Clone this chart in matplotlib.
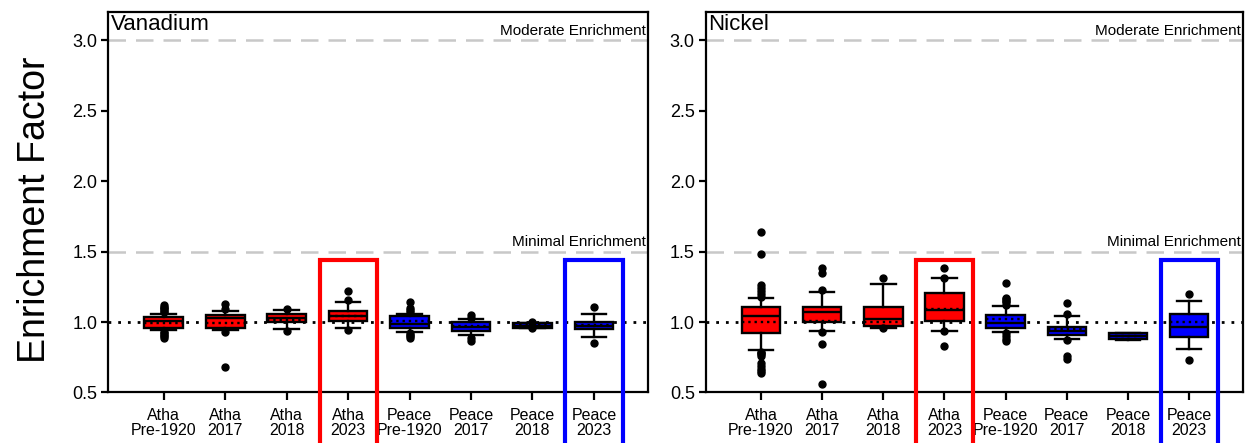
import matplotlib
matplotlib.use("Agg")
import matplotlib.pyplot as plt
import matplotlib.transforms as mtransforms
from matplotlib.patches import Rectangle

plt.rcParams['font.family'] = ['Liberation Sans', 'DejaVu Sans']

# Categorias (eje x)
etiquetas = ["Atha\nPre-1920", "Atha\n2017", "Atha\n2018", "Atha\n2023",
             "Peace\nPre-1920", "Peace\n2017", "Peace\n2018", "Peace\n2023"]
rio = ["Atha", "Atha", "Atha", "Atha", "Peace", "Peace", "Peace", "Peace"]
resaltados = ["Atha\n2023", "Peace\n2023"]

# Vanadio: estadisticos
v_whislo = [0.94, 0.94, 0.95, 0.955, 0.93, 0.91, 0.955, 0.895]
v_q1 = [0.96, 0.96, 1.00, 1.005, 0.96, 0.935, 0.96, 0.95]
v_med = [1.01, 1.03, 1.03, 1.045, 0.985, 0.965, 0.975, 0.97]
v_q3 = [1.035, 1.05, 1.06, 1.075, 1.045, 0.998, 0.99, 1.0]
v_whishi = [1.06, 1.075, 1.085, 1.14, 1.06, 1.02, 0.995, 1.06]
v_mean = [0.99, 0.995, 1.015, 1.04, 1.005, 0.975, 0.98, 0.98]
v_fliers = [
    [1.07, 1.08, 1.09, 1.10, 1.11, 1.12, 0.93, 0.92, 0.91, 0.90, 0.89],
    [1.09, 1.13, 0.93, 0.68],
    [1.09, 0.935],
    [1.22, 1.155, 0.94],
    [1.07, 1.085, 1.10, 1.14, 0.92, 0.91, 0.90, 0.89],
    [1.03, 1.05, 0.885, 0.865],
    [1.0, 0.955],
    [1.105, 0.85],
]

# Niquel
n_whislo = [0.80, 0.935, 0.955, 0.937, 0.932, 0.88, 0.875, 0.809]
n_q1 = [0.925, 1.0, 0.975, 1.007, 0.96, 0.909, 0.88, 0.897]
n_med = [1.045, 1.07, 1.02, 1.084, 0.99, 0.937, 0.90, 0.967]
n_q3 = [1.105, 1.105, 1.11, 1.208, 1.049, 0.967, 0.92, 1.054]
n_whishi = [1.17, 1.21, 1.27, 1.313, 1.112, 1.044, 0.925, 1.147]
n_mean = [1.0, 1.01, 1.0, 1.09, 1.019, 0.95, 0.90, 1.0]
n_fliers = [
    [1.64, 1.48, 1.18, 1.20, 1.22, 1.24, 1.26, 0.79, 0.78, 0.77, 0.76,
     0.71, 0.69, 0.67, 0.65, 0.64],
    [1.385, 1.35, 1.23, 0.93, 0.845, 0.56],
    [1.31, 0.955],
    [1.383, 1.315, 0.935, 0.827],
    [1.28, 1.17, 1.16, 1.15, 1.14, 1.12, 0.92, 0.90, 0.88, 0.865],
    [1.135, 1.054, 0.875, 0.757, 0.74],
    [],
    [1.2, 0.734],
]

COLOR_RIO = {"Atha": "#ff0000", "Peace": "#0000ff"}


def armar_stats(whislo, q1, med, q3, whishi, mean, fliers):
    stats = []
    for i in range(len(etiquetas)):
        stats.append(dict(whislo=whislo[i], q1=q1[i], med=med[i], q3=q3[i],
                          whishi=whishi[i], mean=mean[i], fliers=fliers[i]))
    return stats


def graficar_panel(ax, stats, titulo):
    pos = list(range(1, len(etiquetas) + 1))
    bp = ax.bxp(stats, positions=pos, widths=0.63, capwidths=0.4,
                patch_artist=True, showmeans=True, meanline=True,
                boxprops=dict(edgecolor='black', linewidth=1.7),
                medianprops=dict(color='black', linewidth=1.7),
                meanprops=dict(color='black', linestyle=':', linewidth=1.7),
                whiskerprops=dict(color='black', linewidth=1.7),
                capprops=dict(color='black', linewidth=1.7),
                flierprops=dict(marker='o', markerfacecolor='black',
                                markeredgecolor='black', markersize=5),
                manage_ticks=False, zorder=3)
    for caja, r in zip(bp['boxes'], rio):
        caja.set_facecolor(COLOR_RIO[r])

    # lineas de referencia
    ax.axhline(1.0, color='black', linestyle=(0, (1, 2.5)), linewidth=2, zorder=2)
    ax.axhline(1.5, color='#c8c8c8', linestyle=(0, (7, 4)), linewidth=1.8, zorder=1)
    ax.axhline(3.0, color='#c8c8c8', linestyle=(0, (7, 4)), linewidth=1.8, zorder=1)
    trans = mtransforms.blended_transform_factory(ax.transAxes, ax.transData)
    ax.text(0.996, 3.015, "Moderate Enrichment", transform=trans,
            ha='right', va='bottom', fontsize=11)
    ax.text(0.996, 1.515, "Minimal Enrichment", transform=trans,
            ha='right', va='bottom', fontsize=11)
    ax.text(0.004, 0.995, titulo, transform=ax.transAxes,
            ha='left', va='top', fontsize=16)

    # recuadros resaltados (se salen del eje)
    for i, et in enumerate(etiquetas):
        if et in resaltados:
            rect = Rectangle((pos[i] - 0.465, 0.0), 0.93, 1.437, fill=False,
                             edgecolor=COLOR_RIO[rio[i]], linewidth=3,
                             clip_on=False, zorder=5)
            ax.add_patch(rect)

    ax.set_xlim(0.1, 8.88)
    ax.set_ylim(0.5, 3.2)
    ax.set_yticks([0.5, 1.0, 1.5, 2.0, 2.5, 3.0])
    ax.set_yticklabels(["0.5", "1.0", "1.5", "2.0", "2.5", "3.0"])
    ax.set_xticks(pos)
    ax.set_xticklabels(etiquetas, linespacing=1.0)
    ax.tick_params(axis='y', direction='out', length=5, width=1.6,
                   labelsize=13, pad=3)
    ax.tick_params(axis='x', direction='out', length=6, width=1.6,
                   labelsize=11.5, pad=5)
    for s in ax.spines.values():
        s.set_linewidth(1.6)


fig = plt.figure(figsize=(12.51, 4.43), dpi=100)
ax1 = fig.add_axes([0.0867, 0.114, 0.4313, 0.859])
ax2 = fig.add_axes([0.5643, 0.114, 0.4293, 0.859])

graficar_panel(ax1, armar_stats(v_whislo, v_q1, v_med, v_q3, v_whishi, v_mean, v_fliers), "Vanadium")
graficar_panel(ax2, armar_stats(n_whislo, n_q1, n_med, n_q3, n_whishi, n_mean, n_fliers), "Nickel")

fig.text(0.028, 0.526, "Enrichment Factor", rotation=90, ha='center', va='center',
         fontsize=27)

fig.savefig("out.png", dpi=100)
